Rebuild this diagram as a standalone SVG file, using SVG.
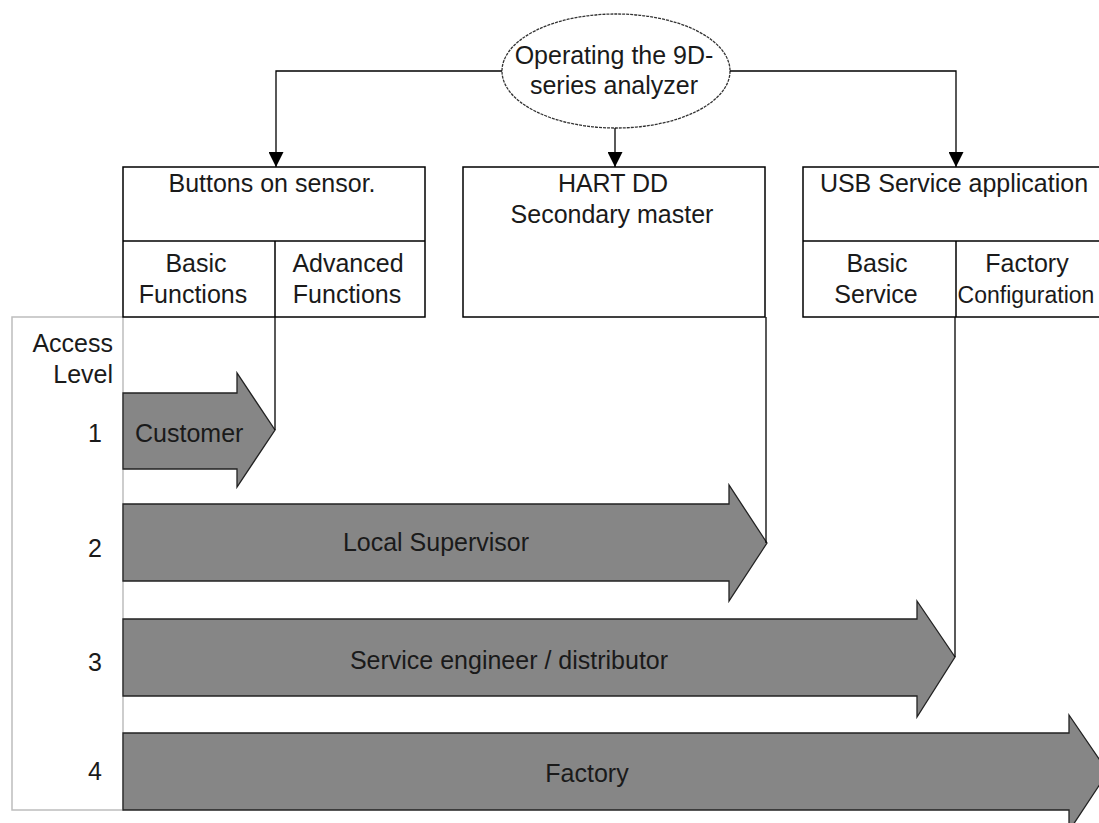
<svg xmlns="http://www.w3.org/2000/svg" width="1099" height="823" viewBox="0 0 1099 823">
<defs>
<style>
text{font-family:"Liberation Sans",Arial,sans-serif;font-size:25px;fill:#1a1a1a}
.c{text-anchor:middle}
.e{text-anchor:end}
.box{fill:#fff;stroke:#000;stroke-width:1.5}
.ln{fill:none;stroke:#000;stroke-width:1.5}
.big{fill:#868686;stroke:#222;stroke-width:1.3}
.conn{fill:none;stroke:#000;stroke-width:1.3}
</style>
<marker id="ah" viewBox="0 0 10 10" refX="10" refY="5" markerWidth="15" markerHeight="15" markerUnits="userSpaceOnUse" orient="auto">
<path d="M0,0 L10,5 L0,10 Z" fill="#000"/>
</marker>
</defs>
<rect width="1099" height="823" fill="#fff"/>

<g id="access-frame">
<rect x="12" y="317" width="111" height="493" fill="none" stroke="#bdbdbd" stroke-width="1.5"/>
<text class="e" x="113" y="352">Access</text>
<text class="e" x="113" y="383">Level</text>
<text class="c" x="95" y="442">1</text>
<text class="c" x="95" y="557">2</text>
<text class="c" x="95" y="671">3</text>
<text class="c" x="95" y="780">4</text>
</g>

<g id="root">
<ellipse cx="616" cy="71" rx="114" ry="57" fill="#fff" stroke="#333" stroke-width="1.3" stroke-dasharray="3 1"/>
<text class="c" x="614" y="64">Operating the 9D-</text>
<text class="c" x="614" y="94">series analyzer</text>
</g>

<g id="buttons">
<rect class="box" x="123" y="167" width="302" height="150"/>
<line class="ln" x1="123" y1="241" x2="425" y2="241"/>
<line class="ln" x1="275" y1="241" x2="275" y2="317"/>
<text class="c" x="272" y="192">Buttons on sensor.</text>
<text class="c" x="196" y="272">Basic</text>
<text class="c" x="193" y="303">Functions</text>
<text class="c" x="348" y="272">Advanced</text>
<text class="c" x="347" y="303">Functions</text>
</g>

<g id="hart">
<rect class="box" x="463" y="167" width="302" height="150"/>
<text class="c" x="613" y="192">HART DD</text>
<text class="c" x="612" y="223">Secondary master</text>
</g>

<g id="usb">
<rect class="box" x="803" y="167" width="320" height="150"/>
<line class="ln" x1="803" y1="241" x2="1123" y2="241"/>
<line class="ln" x1="956" y1="241" x2="956" y2="317"/>
<text class="c" x="954" y="192">USB Service application</text>
<text class="c" x="877" y="272">Basic</text>
<text class="c" x="876" y="303">Service</text>
<text class="c" x="1027" y="272">Factory</text>
<text class="c" x="1026" y="303" style="font-size:23px">Configuration</text>
</g>

<g id="level1">
<path class="big" d="M123,393 H237 V373 L275,430 L237,487 V469 H123 Z"/>
<text x="135" y="442">Customer</text>
</g>

<g id="level2">
<path class="big" d="M123,504 H729 V485 L767,543 L729,601 V581 H123 Z"/>
<text class="c" x="436" y="551">Local Supervisor</text>
</g>

<g id="level3">
<path class="big" d="M123,619 H917 V601 L955,657 L917,717 V696 H123 Z"/>
<text class="c" x="509" y="669">Service engineer / distributor</text>
</g>

<g id="level4">
<path class="big" d="M123,733 H1069 V715 L1108,772 L1069,831 V810 H123 Z"/>
<text class="c" x="587" y="782">Factory</text>
</g>

<g id="connectors">
<polyline class="conn" points="502,71 276,71 276,167" marker-end="url(#ah)"/>
<line class="conn" x1="615" y1="128" x2="615" y2="167" marker-end="url(#ah)"/>
<polyline class="conn" points="730,71 956,71 956,167" marker-end="url(#ah)"/>
<line class="conn" x1="275" y1="317" x2="275" y2="430"/>
<line class="conn" x1="766" y1="317" x2="766" y2="543"/>
<line class="conn" x1="955" y1="317" x2="955" y2="657"/>
</g>
</svg>
